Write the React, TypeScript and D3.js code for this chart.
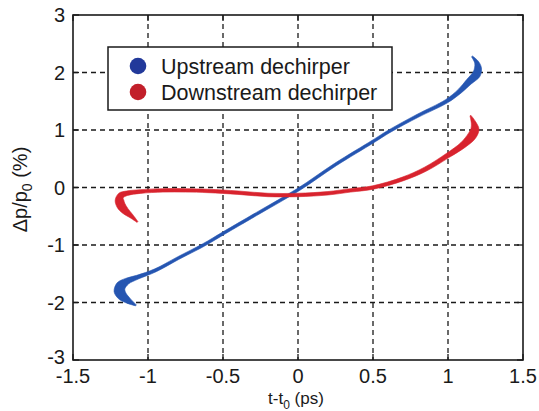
import React from "react";
import * as d3 from "d3";

// Longitudinal phase space after the dechirper: time offset (ps) vs relative momentum offset (%)
const X_TICKS = [-1.5, -1, -0.5, 0, 0.5, 1, 1.5];
const Y_TICKS = [-3, -2, -1, 0, 1, 2, 3];

const SERIES_NAMES = ["Upstream dechirper", "Downstream dechirper"];

// Upstream dechirper: centre line of the beam and its local momentum spread (%)
const UP_T = [-1.08, -1.13, -1.17, -1.19, -1.18, -1.14, -1.07, -0.95, -0.8, -0.63, -0.5, -0.25, 0.0, 0.25, 0.5, 0.61, 0.8, 0.99, 1.08, 1.14, 1.19, 1.2, 1.19, 1.16];
const UP_DP = [-2.05, -1.97, -1.89, -1.8, -1.71, -1.63, -1.56, -1.44, -1.23, -1.0, -0.8, -0.42, -0.04, 0.4, 0.8, 0.98, 1.25, 1.5, 1.68, 1.84, 1.97, 2.08, 2.18, 2.28];
const UP_SPREAD = [0.02, 0.1, 0.16, 0.19, 0.17, 0.11, 0.07, 0.055, 0.05, 0.05, 0.05, 0.05, 0.05, 0.05, 0.05, 0.05, 0.055, 0.065, 0.08, 0.11, 0.14, 0.12, 0.07, 0.02];

// Downstream dechirper
const DOWN_T = [-1.07, -1.11, -1.15, -1.18, -1.19, -1.18, -1.14, -1.05, -0.9, -0.75, -0.6, -0.4, -0.2, 0.0, 0.2, 0.35, 0.5, 0.7, 0.85, 1.0, 1.1, 1.16, 1.18, 1.17, 1.15];
const DOWN_DP = [-0.6, -0.5, -0.41, -0.31, -0.22, -0.14, -0.1, -0.07, -0.05, -0.05, -0.06, -0.09, -0.13, -0.13, -0.1, -0.05, 0.0, 0.15, 0.32, 0.56, 0.74, 0.9, 1.02, 1.13, 1.25];
const DOWN_SPREAD = [0.02, 0.07, 0.12, 0.15, 0.15, 0.11, 0.08, 0.065, 0.06, 0.06, 0.06, 0.06, 0.06, 0.06, 0.06, 0.06, 0.06, 0.065, 0.075, 0.085, 0.11, 0.15, 0.14, 0.08, 0.02];

const W = 539;
const H = 411;
const PLOT = { left: 73, right: 523, top: 15, bottom: 360 };
const FONT = "'Liberation Sans', Arial, Helvetica, sans-serif";

const BLUE = "#2555b1";
const RED = "#d8232e";
const BLUE_MARK = "#22399a";
const RED_MARK = "#c21f2a";

const x = d3.scaleLinear().domain([-1.5, 1.5]).range([PLOT.left, PLOT.right]);
const y = d3.scaleLinear().domain([-3, 3]).range([PLOT.bottom, PLOT.top]);

// Filled band following the centre line, with a width set by the local spread
function bandPath(ts: number[], dps: number[], spreads: number[]): string {
  const pts = ts.map((t, i) => [x(t), y(dps[i])]);
  const pxPerUnit = Math.abs(y(1) - y(0));
  const left: [number, number][] = [];
  const right: [number, number][] = [];
  pts.forEach((p, i) => {
    const a = pts[Math.max(0, i - 1)];
    const b = pts[Math.min(pts.length - 1, i + 1)];
    let tx = b[0] - a[0];
    let ty = b[1] - a[1];
    const len = Math.hypot(tx, ty) || 1;
    tx /= len;
    ty /= len;
    const half = (spreads[i] * pxPerUnit) / 2;
    left.push([p[0] - ty * half, p[1] + tx * half]);
    right.push([p[0] + ty * half, p[1] - tx * half]);
  });
  const line = d3.line().curve(d3.curveCatmullRom.alpha(0.5));
  const l = line(left) || "";
  const r = (line(right.reverse()) || "").replace(/^M/, "L");
  return l + r + "Z";
}

export default function App() {
  const upPath = bandPath(UP_T, UP_DP, UP_SPREAD);
  const downPath = bandPath(DOWN_T, DOWN_DP, DOWN_SPREAD);
  const tickLen = 6;

  return (
    <svg
      width={W}
      height={H}
      viewBox={`0 0 ${W} ${H}`}
      style={{ position: "absolute", left: 0, top: 0, background: "#fff" }}
      fontFamily={FONT}
    >
      <rect x={0} y={0} width={W} height={H} fill="#fff" />

      {/* dashed grid */}
      <g stroke="#1a1a1a" strokeWidth={1.3} strokeDasharray="5,4">
        {X_TICKS.slice(1, -1).map((t) => (
          <line key={`gx${t}`} x1={x(t)} x2={x(t)} y1={PLOT.top} y2={PLOT.bottom} />
        ))}
        {Y_TICKS.slice(1, -1).map((t) => (
          <line key={`gy${t}`} x1={PLOT.left} x2={PLOT.right} y1={y(t)} y2={y(t)} />
        ))}
      </g>

      {/* beam phase space */}
      <path d={upPath} fill={BLUE} stroke={BLUE} strokeWidth={0.6} strokeLinejoin="round" />
      <path d={downPath} fill={RED} stroke={RED} strokeWidth={0.6} strokeLinejoin="round" />

      {/* inward ticks on all sides */}
      <g stroke="#1a1a1a" strokeWidth={1.3}>
        {X_TICKS.map((t) => (
          <g key={`tx${t}`}>
            <line x1={x(t)} x2={x(t)} y1={PLOT.bottom} y2={PLOT.bottom - tickLen} />
            <line x1={x(t)} x2={x(t)} y1={PLOT.top} y2={PLOT.top + tickLen} />
          </g>
        ))}
        {Y_TICKS.map((t) => (
          <g key={`ty${t}`}>
            <line x1={PLOT.left} x2={PLOT.left + tickLen} y1={y(t)} y2={y(t)} />
            <line x1={PLOT.right} x2={PLOT.right - tickLen} y1={y(t)} y2={y(t)} />
          </g>
        ))}
      </g>

      {/* axes box */}
      <rect
        x={PLOT.left}
        y={PLOT.top}
        width={PLOT.right - PLOT.left}
        height={PLOT.bottom - PLOT.top}
        fill="none"
        stroke="#1a1a1a"
        strokeWidth={1.6}
      />

      {/* tick labels */}
      <g fontSize={20} fill="#1a1a1a">
        {X_TICKS.map((t) => (
          <text key={`lx${t}`} x={x(t)} y={383} textAnchor="middle">
            {String(t)}
          </text>
        ))}
        {Y_TICKS.map((t) => (
          <text key={`ly${t}`} x={65} y={y(t) - (t === -3 ? 3 : 0)} dy="0.36em" textAnchor="end">
            {String(t)}
          </text>
        ))}
      </g>

      {/* axis titles */}
      <text x={296} y={404} fontSize={17} textAnchor="middle" fill="#1a1a1a">
        <tspan>t-t</tspan>
        <tspan dy={5} fontSize={12}>0</tspan>
        <tspan dy={-5}> (ps)</tspan>
      </text>
      <text
        transform={`translate(27, ${(PLOT.top + PLOT.bottom) / 2 + 2}) rotate(-90)`}
        fontSize={20}
        textAnchor="middle"
        fill="#1a1a1a"
      >
        <tspan>Δp/p</tspan>
        <tspan dy={5} fontSize={14}>0</tspan>
        <tspan dy={-5}> (%)</tspan>
      </text>

      {/* legend */}
      <g>
        <rect x={108} y={47} width={284} height={63} fill="#fff" stroke="#1a1a1a" strokeWidth={1.5} />
        {SERIES_NAMES.map((name, i) => (
          <g key={name}>
            <circle cx={138} cy={66 + i * 26} r={8.3} fill={i === 0 ? BLUE_MARK : RED_MARK} />
            <text x={161} y={66 + i * 26} dy="0.36em" fontSize={21.5} fill="#1a1a1a">
              {name}
            </text>
          </g>
        ))}
      </g>
    </svg>
  );
}
